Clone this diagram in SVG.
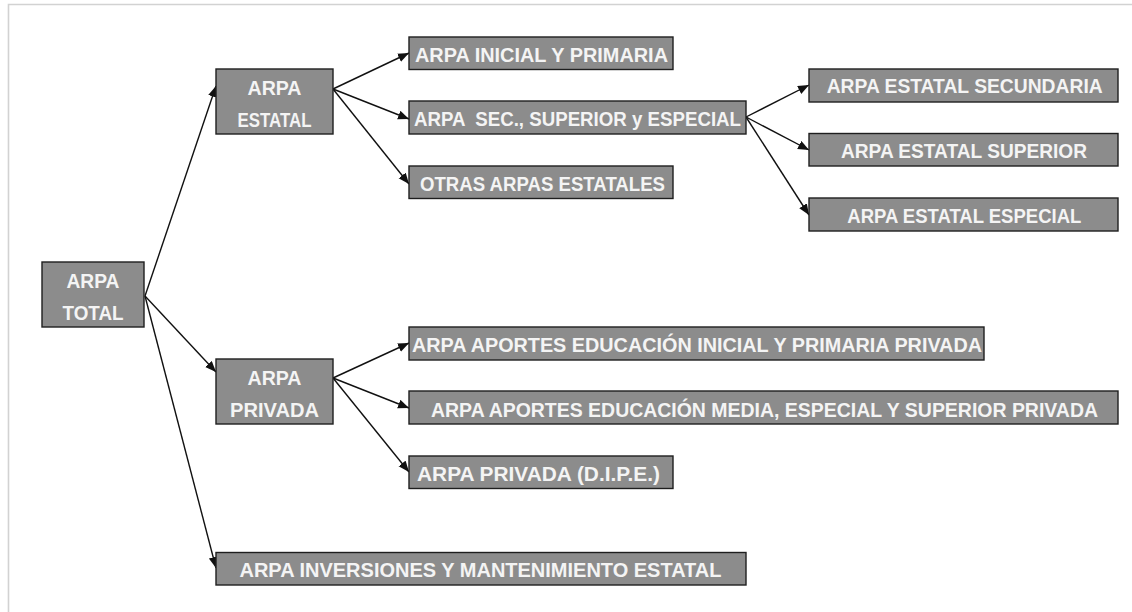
<svg xmlns="http://www.w3.org/2000/svg" width="1132" height="612" viewBox="0 0 1132 612">
<style>
.box{fill:#8c8c8c;stroke:#1e1e1e;stroke-width:1.4}
.t{font-family:"Liberation Sans",Arial,sans-serif;font-weight:bold;font-size:19.5px;fill:#f4f4f4}
.c{font-family:"Liberation Sans",Arial,sans-serif;font-weight:bold;font-size:21px;fill:#f4f4f4}
.m{text-anchor:middle}
.ln{stroke:#111;stroke-width:1.4;fill:none;marker-end:url(#ah)}
.frame{stroke:#d2d2d2;stroke-width:1.6;fill:none}
</style>
<defs>
<marker id="ah" markerUnits="userSpaceOnUse" markerWidth="12" markerHeight="10" refX="11" refY="4.5" orient="auto">
<path d="M0,0 L11,4.5 L0,9 z" fill="#111"/>
</marker>
</defs>
<rect width="1132" height="612" fill="#fff"/>
<path class="frame" d="M8.5,612 L8.5,4.5 L1132,4.5"/>
<g id="connectors">
<line class="ln" x1="145" y1="296" x2="216" y2="86"/>
<line class="ln" x1="145" y1="296" x2="216" y2="372"/>
<line class="ln" x1="145" y1="296" x2="216" y2="568"/>
<line class="ln" x1="333" y1="89" x2="409" y2="53"/>
<line class="ln" x1="333" y1="89" x2="409" y2="119"/>
<line class="ln" x1="333" y1="89" x2="409" y2="184"/>
<line class="ln" x1="746" y1="117" x2="809" y2="85"/>
<line class="ln" x1="746" y1="117" x2="809" y2="150"/>
<line class="ln" x1="746" y1="117" x2="809" y2="215"/>
<line class="ln" x1="333" y1="378" x2="409" y2="343"/>
<line class="ln" x1="333" y1="378" x2="409" y2="408"/>
<line class="ln" x1="333" y1="378" x2="409" y2="472"/>
</g>
<g id="n-total">
<rect class="box" x="42" y="262" width="102" height="65"/>
<text class="t m" x="93" y="287.5" textLength="53" lengthAdjust="spacingAndGlyphs">ARPA</text>
<text class="t m" x="93" y="319.5" textLength="61" lengthAdjust="spacingAndGlyphs">TOTAL</text>
</g>
<g id="n-estatal">
<rect class="box" x="216" y="69" width="117" height="65"/>
<text class="t m" x="274.5" y="94.5" textLength="54" lengthAdjust="spacingAndGlyphs">ARPA</text>
<text class="t m" x="274.5" y="126.5" textLength="74" lengthAdjust="spacingAndGlyphs">ESTATAL</text>
</g>
<g id="n-privada">
<rect class="box" x="216" y="359" width="117" height="65"/>
<text class="t m" x="274.5" y="384.5" textLength="54" lengthAdjust="spacingAndGlyphs">ARPA</text>
<text class="t m" x="274.5" y="416.5" textLength="89" lengthAdjust="spacingAndGlyphs">PRIVADA</text>
</g>
<g id="n-inicial">
<rect class="box" x="409" y="37" width="264" height="32.5"/>
<text class="t" x="415" y="62.3" textLength="253" lengthAdjust="spacingAndGlyphs">ARPA INICIAL Y PRIMARIA</text>
</g>
<g id="n-sec">
<rect class="box" x="409" y="101" width="337" height="33"/>
<text class="t" x="414" y="126.3" textLength="327" lengthAdjust="spacingAndGlyphs" xml:space="preserve">ARPA  SEC., SUPERIOR y ESPECIAL</text>
</g>
<g id="n-otras">
<rect class="box" x="409" y="166" width="264" height="32.5"/>
<text class="t" x="420" y="190.7" textLength="245" lengthAdjust="spacingAndGlyphs">OTRAS ARPAS ESTATALES</text>
</g>
<g id="n-secundaria">
<rect class="box" x="809" y="69" width="309" height="33"/>
<text class="t" x="826.7" y="93.3" textLength="276" lengthAdjust="spacingAndGlyphs">ARPA ESTATAL SECUNDARIA</text>
</g>
<g id="n-superior">
<rect class="box" x="809" y="133.5" width="309" height="32.5"/>
<text class="t" x="841" y="158.3" textLength="246" lengthAdjust="spacingAndGlyphs">ARPA ESTATAL SUPERIOR</text>
</g>
<g id="n-especial">
<rect class="box" x="809" y="198" width="309" height="33"/>
<text class="t" x="847.3" y="223.3" textLength="234" lengthAdjust="spacingAndGlyphs">ARPA ESTATAL ESPECIAL</text>
</g>
<g id="n-aportes-inicial">
<rect class="box" x="409" y="327" width="575" height="33"/>
<text class="c" x="412" y="351.7" textLength="570" lengthAdjust="spacingAndGlyphs">ARPA APORTES EDUCACIÓN INICIAL Y PRIMARIA PRIVADA</text>
</g>
<g id="n-aportes-media">
<rect class="box" x="409" y="391" width="709" height="33"/>
<text class="c" x="431" y="416.5" textLength="667" lengthAdjust="spacingAndGlyphs">ARPA APORTES EDUCACIÓN MEDIA, ESPECIAL Y SUPERIOR PRIVADA</text>
</g>
<g id="n-dipe">
<rect class="box" x="409" y="456" width="264" height="32.5"/>
<text class="c" x="417" y="480.5" textLength="243" lengthAdjust="spacingAndGlyphs">ARPA PRIVADA (D.I.P.E.)</text>
</g>
<g id="n-inversiones">
<rect class="box" x="216" y="552.5" width="530" height="32.5"/>
<text class="t" x="239.5" y="577" textLength="482" lengthAdjust="spacingAndGlyphs">ARPA INVERSIONES Y MANTENIMIENTO ESTATAL</text>
</g>
</svg>
